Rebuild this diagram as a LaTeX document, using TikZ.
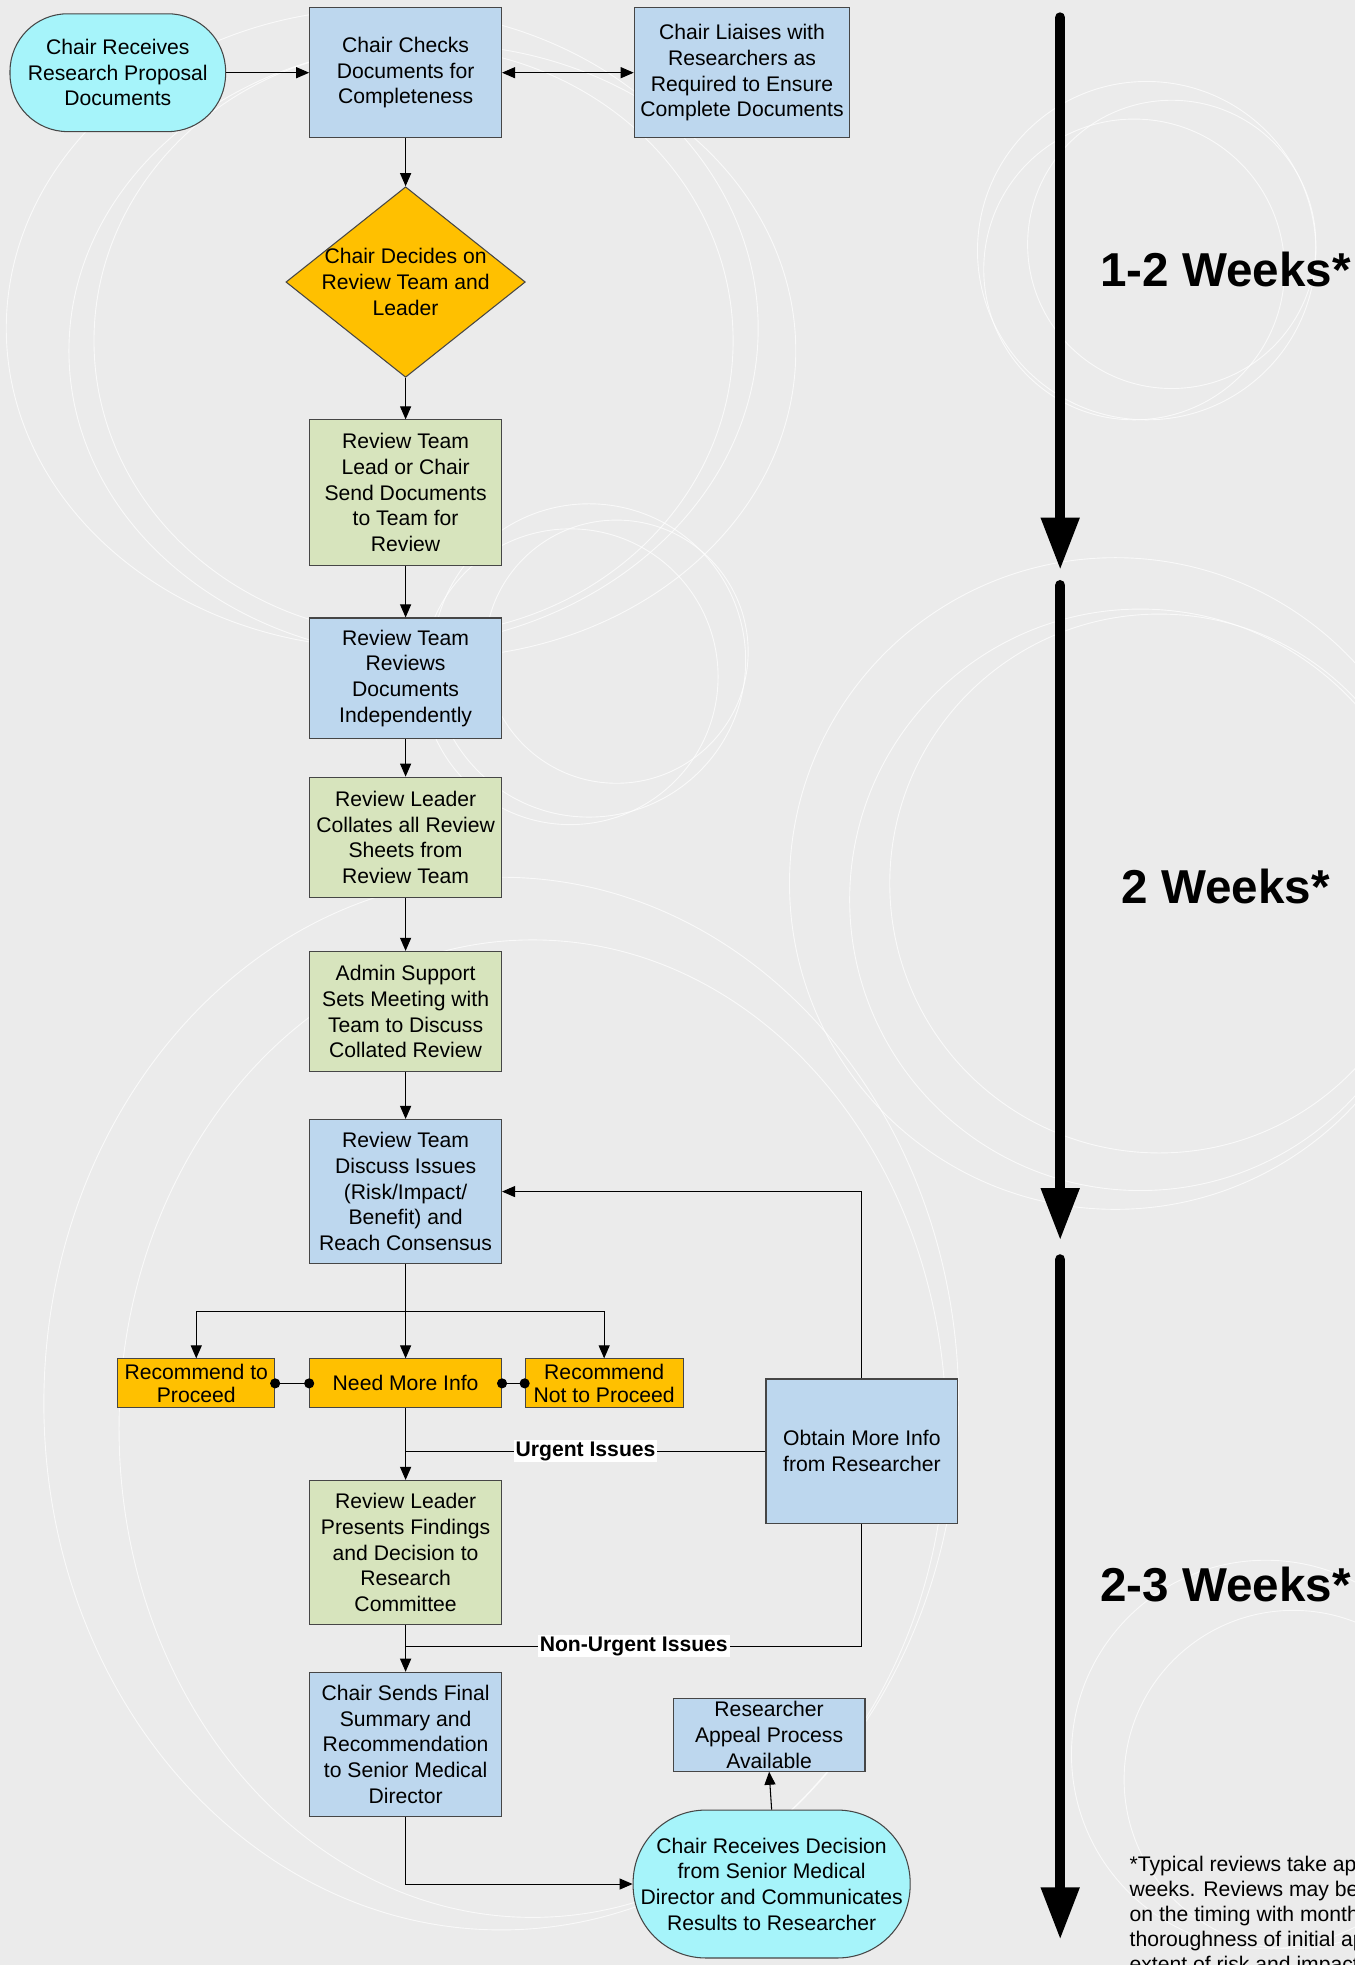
\documentclass[tikz,border=0pt]{standalone}
\usepackage{fontspec}
\setmainfont{Liberation Sans}
\usetikzlibrary{arrows.meta,positioning,shapes.geometric,calc}

\definecolor{paper}{RGB}{235,235,235}
\definecolor{boxblue}{RGB}{189,215,238}
\definecolor{boxgreen}{RGB}{215,228,189}
\definecolor{boxorange}{RGB}{255,192,0}
\definecolor{boxcyan}{RGB}{166,244,250}
\definecolor{edge}{RGB}{70,70,70}

\begin{document}
\begin{tikzpicture}[x=0.025cm, y=-0.025cm, node distance=3.75cm, line width=0.6pt,
    every node/.style={font=\fontsize{12}{14.6}\selectfont, align=center},
    box/.style={draw=edge, inner sep=1pt, minimum width=3.825cm},
    blue box/.style={box, fill=boxblue},
    green box/.style={box, fill=boxgreen},
    choice/.style={box, fill=boxorange, inner sep=0pt, minimum height=0.975cm, font=\fontsize{12}{13.5}\selectfont},
    terminal/.style={box, fill=boxcyan, rounded corners=#1},
    decision/.style={diamond, draw=edge, fill=boxorange, inner sep=0pt, minimum width=4.775cm, minimum height=3.8cm},
    issue/.style={fill=white, inner sep=1pt, font=\bfseries\fontsize{12}{14}\selectfont},
    weeks/.style={font=\bfseries\fontsize{27}{32}\selectfont},
    note/.style={font=\fontsize{12}{14.2}\selectfont, align=left, anchor=north west, inner sep=0pt},
    deco/.style={draw=white, draw opacity=0.75, line width=0.5pt},
    timeline/.style={line width=0.21cm, line cap=round, -{Triangle[length=1.05cm, width=0.72cm]}},
    dotlink/.style={{Circle[length=0.2cm]}-{Circle[length=0.2cm]}, shorten <=-0.1cm, shorten >=-0.1cm},
    >={Triangle[length=0.26cm, width=0.22cm]}]
% Background and faint rings
\fill[paper] (0,0) rectangle (1081,1568);
\useasboundingbox (0,0) rectangle (1081,1568);
\draw[deco] (305,262) ellipse [x radius=300, y radius=255];
\draw[deco] (330,272) ellipse [x radius=255, y radius=235];
\draw[deco] (345,280) ellipse [x radius=290, y radius=245];
\draw[deco] (470,527) circle [radius=125];
\draw[deco] (492,520) circle [radius=105];
\draw[deco] (455,540) circle [radius=118];
\draw[deco] (915,200) circle [radius=135];
\draw[deco] (935,195) circle [radius=115];
\draw[deco] (905,215) circle [radius=120];
\draw[deco] (890,705) circle [radius=260];
\draw[deco] (910,718) circle [radius=232];
\draw[deco] (925,705) circle [radius=215];
\draw[deco] (400,1120) ellipse [x radius=365, y radius=420];
\draw[deco] (425,1140) ellipse [x radius=330, y radius=390];
\draw[deco] (1010,1400) circle [radius=155];
\draw[deco] (1032,1420) circle [radius=135];

% Specification of nodes (position, etc.)
\node (chair-receives)   [terminal=1.15cm, minimum width=4.3cm, minimum height=2.35cm] at (94,58)
                         {Chair Receives\\Research Proposal\\Documents};
\node (chair-checks)     [blue box, minimum height=2.6cm, right of=chair-receives, xshift=1.99cm]
                         {Chair Checks\\Documents for\\Completeness};
\node (chair-liaises)    [blue box, minimum width=4.3cm, minimum height=2.6cm, right of=chair-checks, xshift=2.96cm]
                         {Chair Liaises with\\Researchers as\\Required to Ensure\\Complete Documents};
\node (chair-decides)    [decision, below of=chair-checks, yshift=-0.425cm] {};
\node (decides-text)     at (chair-decides) {Chair Decides on\\Review Team and\\Leader};
\node (send-documents)   [green box, minimum height=2.9cm, below of=chair-decides, yshift=-0.45cm]
                         {Review Team\\Lead or Chair\\Send Documents\\to Team for\\Review};
\node (team-reviews)     [blue box, minimum height=2.4cm, below of=send-documents, yshift=0.05cm]
                         {Review Team\\Reviews\\Documents\\Independently};
\node (leader-collates)  [green box, minimum height=2.4cm, below of=team-reviews, yshift=0.575cm]
                         {Review Leader\\Collates all Review\\Sheets from\\Review Team};
\node (admin-support)    [green box, minimum height=2.4cm, below of=leader-collates, yshift=0.275cm]
                         {Admin Support\\Sets Meeting with\\Team to Discuss\\Collated Review};
\node (team-discuss)     [blue box, minimum height=2.875cm, below of=admin-support, yshift=0.16cm]
                         {Review Team\\Discuss Issues\\(Risk/Impact/\\Benefit) and\\Reach Consensus};
\node (need-info)        [choice, below of=team-discuss, yshift=-0.075cm] {Need More Info};
\node (recommend-proceed)[choice, minimum width=3.125cm, left of=need-info, xshift=-0.425cm] {Recommend to\\Proceed};
\node (recommend-not)    [choice, minimum width=3.15cm, right of=need-info, xshift=0.21cm] {Recommend\\Not to Proceed};
\node (obtain-info)      [blue box, minimum height=2.875cm, right of=need-info, xshift=5.35cm, yshift=-1.35cm]
                         {Obtain More Info\\from Researcher};
\node (leader-presents)  [green box, minimum height=2.875cm, below of=need-info, yshift=0.375cm]
                         {Review Leader\\Presents Findings\\and Decision to\\Research\\Committee};
\node (chair-sends)      [blue box, minimum height=2.875cm, below of=leader-presents, yshift=-0.075cm]
                         {Chair Sends Final\\Summary and\\Recommendation\\to Senior Medical\\Director};
\node (appeal-process)   [blue box, inner sep=0pt, minimum height=1.45cm, right of=chair-sends, xshift=3.5cm, yshift=0.19cm]
                         {Researcher\\Appeal Process\\Available};
\node (chair-decision)   [terminal=1.45cm, minimum width=5.525cm, minimum height=2.95cm, below of=appeal-process, xshift=0.05cm, yshift=0.775cm]
                         {Chair Receives Decision\\from Senior Medical\\Director and Communicates\\Results to Researcher};

\coordinate (non-urgent) at ($(leader-presents.south)!0.45!(chair-sends.north)$);

% Connectors
\draw[->]   (chair-receives) -- (chair-checks);
\draw[<->]  (chair-checks) -- (chair-liaises);
\draw[->]   (chair-checks) -- (chair-decides);
\draw[->]   (chair-decides) -- (send-documents);
\draw[->]   (send-documents) -- (team-reviews);
\draw[->]   (team-reviews) -- (leader-collates);
\draw[->]   (leader-collates) -- (admin-support);
\draw[->]   (admin-support) -- (team-discuss);
\draw[->]   (team-discuss) -- (need-info);
\draw[->]   (team-discuss.south) -- ++(0,38) -| (recommend-proceed.north);
\draw[->]   (team-discuss.south) -- ++(0,38) -| (recommend-not.north);
\draw[dotlink] (recommend-proceed) -- (need-info);
\draw[dotlink] (need-info) -- (recommend-not);
\draw[->]   (need-info) -- (leader-presents);
\draw       (obtain-info.west) -- node[issue]{Urgent Issues} (obtain-info.west -| need-info.south);
\draw[->]   (obtain-info.north) |- (team-discuss.east);
\draw       (obtain-info.south) |- node[issue, pos=0.75]{Non-Urgent Issues} (non-urgent);
\draw[->]   (leader-presents) -- (chair-sends);
\draw[->]   (chair-sends.south) |- (chair-decision.west);
\draw[->]   (chair-decision.north) -- (appeal-process.south);

% Time scale
\draw[timeline] (846,14) -- (846,455);
\draw[timeline] (846,467) -- (846,990);
\draw[timeline] (846,1005) -- (846,1548);
\node (weeks-one)   [weeks] at (978,215)  {1-2 Weeks*};
\node (weeks-two)   [weeks] at (978,707)  {2 Weeks*};
\node (weeks-three) [weeks] at (978,1264) {2-3 Weeks*};
\node (footnote)    [note] at (901,1481)
  {*Typical reviews take ap\\weeks. Reviews may be\\on the timing with month\\thoroughness of initial ap\\extent of risk and impact};

\end{tikzpicture}
\end{document}
